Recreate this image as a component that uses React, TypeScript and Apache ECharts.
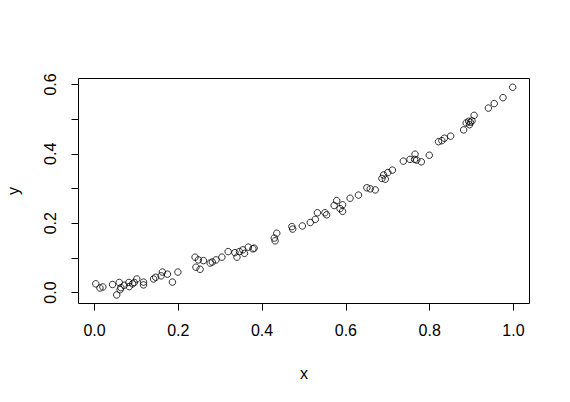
import React, { useEffect, useRef } from "react";
import * as echarts from "echarts";

const xValues = [
  0.003, 0.013, 0.02, 0.043, 0.053, 0.059, 0.061, 0.063, 0.071, 0.082,
  0.083, 0.091, 0.095, 0.101, 0.117, 0.117, 0.141, 0.146, 0.159, 0.162,
  0.174, 0.186, 0.199, 0.24, 0.248, 0.242, 0.252, 0.26, 0.276, 0.281,
  0.29, 0.304, 0.319, 0.335, 0.34, 0.346, 0.354, 0.358, 0.367, 0.378,
  0.381, 0.429, 0.435, 0.431, 0.471, 0.473, 0.496, 0.515, 0.527, 0.532,
  0.55, 0.554, 0.572, 0.578, 0.586, 0.592, 0.592, 0.61, 0.63, 0.65,
  0.658, 0.67, 0.686, 0.69, 0.694, 0.7, 0.711, 0.737, 0.753, 0.765,
  0.764, 0.769, 0.78, 0.799, 0.821, 0.829, 0.835, 0.85, 0.881, 0.887,
  0.893, 0.897, 0.901, 0.895, 0.906, 0.94, 0.954, 0.975, 0.998,
];
const yValues = [
  0.025, 0.013, 0.016, 0.023, -0.007, 0.029, 0.008, 0.014, 0.021, 0.029,
  0.017, 0.025, 0.029, 0.039, 0.03, 0.022, 0.039, 0.044, 0.048, 0.059,
  0.053, 0.03, 0.059, 0.102, 0.094, 0.073, 0.067, 0.092, 0.085, 0.088,
  0.094, 0.102, 0.118, 0.115, 0.102, 0.118, 0.123, 0.113, 0.131, 0.126,
  0.128, 0.157, 0.171, 0.149, 0.19, 0.183, 0.192, 0.202, 0.211, 0.23,
  0.23, 0.224, 0.251, 0.265, 0.242, 0.234, 0.253, 0.272, 0.281, 0.302,
  0.299, 0.296, 0.329, 0.339, 0.327, 0.346, 0.353, 0.379, 0.384, 0.399,
  0.384, 0.382, 0.377, 0.396, 0.435, 0.438, 0.445, 0.451, 0.469, 0.489,
  0.494, 0.491, 0.495, 0.484, 0.511, 0.532, 0.545, 0.562, 0.592,
];
const xTicks = [0, 0.2, 0.4, 0.6, 0.8, 1.0];
const yTicks = [0, 0.1, 0.2, 0.3, 0.4, 0.5, 0.6];
const yLabels = [0, 0.2, 0.4, 0.6];
const xTitle = "x";
const yTitle = "y";

export default function App() {
  const ref = useRef<HTMLDivElement>(null);
  useEffect(() => {
    if (!ref.current) return;
    const chart = echarts.init(ref.current, null, { renderer: "svg" });
    const font = "Arial, 'Liberation Sans', sans-serif";
    const data = xValues.map((x, i) => [x, yValues[i]]);
    chart.setOption({
      animation: false,
      backgroundColor: "#fff",
      grid: {
        left: 78.5,
        top: 78.5,
        width: 451,
        height: 225,
        show: true,
        borderColor: "#000",
        borderWidth: 1,
        backgroundColor: "transparent",
        containLabel: false,
      },
      xAxis: {
        type: "value",
        min: -0.0382,
        max: 1.0382,
        axisLine: { show: false, onZero: false },
        splitLine: { show: false },
        axisTick: {
          show: true,
          inside: false,
          length: 7,
          customValues: xTicks,
          lineStyle: { color: "#000", width: 1 },
        },
        axisLabel: {
          customValues: xTicks,
          formatter: (v: number) => v.toFixed(1),
          color: "#000",
          fontSize: 16,
          fontFamily: font,
          margin: 19,
        },
      },
      yAxis: {
        type: "value",
        min: -0.0317,
        max: 0.6173,
        axisLine: { show: false, onZero: false },
        splitLine: { show: false },
        axisTick: {
          show: true,
          inside: false,
          length: 7,
          customValues: yTicks,
          lineStyle: { color: "#000", width: 1 },
        },
        axisLabel: {
          customValues: yLabels,
          formatter: (v: number) => v.toFixed(1),
          color: "#000",
          fontSize: 16,
          fontFamily: font,
          rotate: 90,
          margin: 20,
        },
      },
      graphic: [
        {
          type: "text",
          x: 304,
          y: 373,
          style: {
            text: xTitle,
            fill: "#000",
            font: `16px ${font}`,
            align: "center",
            verticalAlign: "middle",
          },
        },
        {
          type: "text",
          x: 13,
          y: 191,
          rotation: Math.PI / 2,
          style: {
            text: yTitle,
            fill: "#000",
            font: `16px ${font}`,
            align: "center",
            verticalAlign: "middle",
          },
        },
      ],
      series: [
        {
          type: "scatter",
          data,
          symbol: "circle",
          symbolSize: 6.5,
          clip: false,
          itemStyle: {
            color: "transparent",
            borderColor: "#000",
            borderWidth: 1,
          },
        },
      ],
    });
    return () => chart.dispose();
  }, []);
  return (
    <div
      ref={ref}
      style={{ position: "fixed", left: 0, top: 0, width: 570, height: 402 }}
    />
  );
}
